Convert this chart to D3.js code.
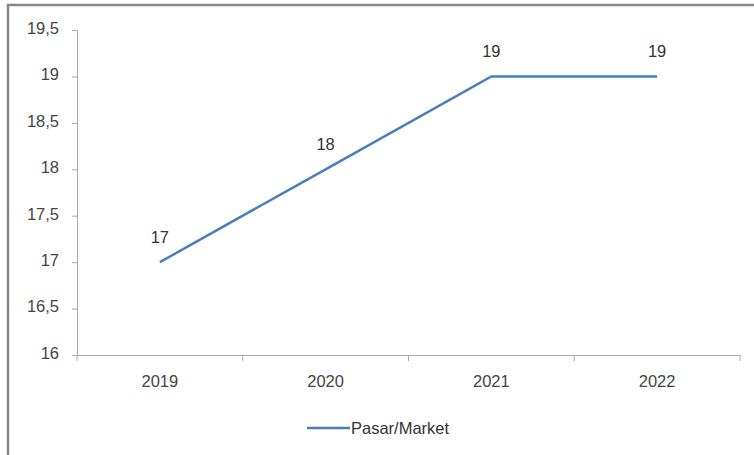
<!DOCTYPE html>
<html><head><meta charset="utf-8">
<script src="https://cdn.jsdelivr.net/npm/d3@7"></script>
<style>body{margin:0;background:#fff}svg{display:block}</style>
</head><body>
<svg id="c" width="754" height="455"></svg>
<script>
const categories = ["2019", "2020", "2021", "2022"];
const values = [17, 18, 19, 19];
const yTicks = [16, 16.5, 17, 17.5, 18, 18.5, 19, 19.5];
const seriesName = "Pasar/Market";

const svg = d3.select("#c");
const font = "'Liberation Sans', Arial, sans-serif";
const fs = 16.5;
// outer frame
svg.append("rect").attr("x", 8).attr("y", 5).attr("width", 760).attr("height", 470)
  .attr("fill", "#fff").attr("stroke", "#868686").attr("stroke-width", 2.5);

const m = {l: 77, r: 740, t: 30, b: 355};
const x = d3.scaleBand().domain(categories).range([m.l, m.r]);
const y = d3.scaleLinear().domain([16, 19.5]).range([m.b, m.t]);
const fmt = d => String(d).replace(".", ",");

// y axis
const ya = svg.append("g").attr("transform", `translate(${m.l},0)`)
  .call(d3.axisLeft(y).tickValues(yTicks).tickFormat(fmt).tickSize(5).tickPadding(13));
ya.select(".domain").attr("stroke", "#aaa");
ya.selectAll(".tick line").attr("stroke", "#aaa");
ya.selectAll("text").attr("font-family", font).attr("font-size", fs).attr("fill", "#444").attr("dy", "0.2em");

// x axis
const xa = svg.append("g").attr("transform", `translate(0,${m.b})`)
  .call(d3.axisBottom(x).tickSize(0).tickPadding(20));
xa.select(".domain").attr("stroke", "#aaa");
xa.selectAll("text").attr("font-family", font).attr("font-size", fs).attr("fill", "#444");
const bounds = categories.map(c => x(c)).concat([m.r]);
svg.append("g").selectAll("line").data(bounds).join("line")
  .attr("x1", d => d).attr("x2", d => d).attr("y1", m.b).attr("y2", m.b + 6)
  .attr("stroke", "#aaa");

// line
const cx = c => x(c) + x.bandwidth() / 2;
svg.append("path").datum(values)
  .attr("d", d3.line().x((d, i) => cx(categories[i])).y(d => y(d)))
  .attr("fill", "none").attr("stroke", "#4a7ebb").attr("stroke-width", 2.5);

// data labels
svg.append("g").selectAll("text").data(values).join("text")
  .attr("x", (d, i) => cx(categories[i])).attr("y", d => y(d) - 19)
  .attr("text-anchor", "middle").attr("font-family", font).attr("font-size", fs)
  .attr("fill", "#333").text(d => d);

// legend
const lg = svg.append("g");
lg.append("line").attr("x1", 307).attr("x2", 350).attr("y1", 428).attr("y2", 428)
  .attr("stroke", "#4a7ebb").attr("stroke-width", 2.5);
lg.append("text").attr("x", 351).attr("y", 434).attr("font-family", font)
  .attr("font-size", fs).attr("fill", "#333").text(seriesName);
</script>
</body></html>
